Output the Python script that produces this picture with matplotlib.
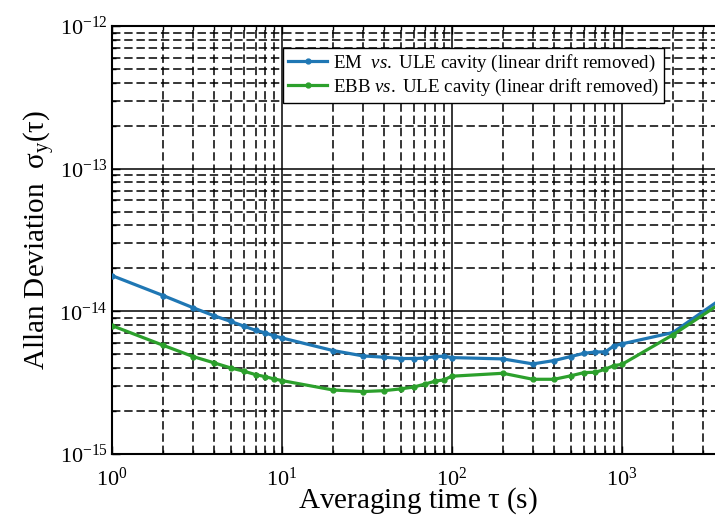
import matplotlib
matplotlib.use("Agg")
import matplotlib.pyplot as plt
import numpy as np

plt.rcParams['font.family'] = ['Liberation Serif', 'DejaVu Serif']
plt.rcParams['mathtext.fontset'] = 'custom'
plt.rcParams['mathtext.rm'] = 'Liberation Serif'
plt.rcParams['mathtext.it'] = 'Liberation Serif:italic'
plt.rcParams['mathtext.bf'] = 'Liberation Serif:bold'

tau = [1, 2, 3, 4, 5, 6, 7, 8, 9, 10, 20, 30, 40, 50, 60, 70, 80, 90, 100,
       200, 300, 400, 500, 600, 700, 800, 900, 1000, 2000, 4000]

em = [1.78e-14, 1.29e-14, 1.06e-14, 9.3e-15, 8.5e-15, 7.86e-15, 7.36e-15, 7.06e-15,
      6.73e-15, 6.51e-15, 5.31e-15, 4.87e-15, 4.77e-15, 4.67e-15, 4.67e-15, 4.70e-15,
      4.82e-15, 4.85e-15, 4.74e-15, 4.64e-15, 4.28e-15, 4.52e-15, 4.82e-15, 5.08e-15,
      5.19e-15, 5.20e-15, 5.72e-15, 5.91e-15, 7.1e-15, 1.26e-14]

ebb = [7.94e-15, 5.78e-15, 4.82e-15, 4.35e-15, 4.01e-15, 3.80e-15, 3.60e-15, 3.48e-15,
       3.36e-15, 3.27e-15, 2.81e-15, 2.74e-15, 2.78e-15, 2.86e-15, 2.95e-15, 3.10e-15,
       3.24e-15, 3.31e-15, 3.51e-15, 3.68e-15, 3.34e-15, 3.34e-15, 3.53e-15, 3.72e-15,
       3.74e-15, 3.93e-15, 4.17e-15, 4.24e-15, 6.84e-15, 1.18e-14]

labels = [r'EM  $\mathit{vs.}$ ULE cavity (linear drift removed)',
          r'EBB $\mathit{vs.}$ ULE cavity (linear drift removed)']
colors = ['#1f77b4', '#2ca02c']

fig = plt.figure(figsize=(7.15, 5.2), dpi=100)
ax = fig.add_axes([112/715, 66/520, (724-112)/715, (454-26)/520])

ax.plot(tau, em, '-o', color=colors[0], lw=2.3, ms=3.5, label=labels[0], zorder=3)
ax.plot(tau, ebb, '-o', color=colors[1], lw=2.3, ms=3.5, label=labels[1], zorder=3)

ax.set_xscale('log')
ax.set_yscale('log')
ax.set_xlim(1, 4000)
ax.set_ylim(1e-15, 1e-12)

ax.grid(True, which='major', color='black', linestyle='-', linewidth=1.1)
ax.grid(True, which='minor', color='black', linestyle=(0, (5.5, 2.5)), linewidth=1.1)
ax.set_axisbelow(True)

ax.tick_params(which='both', direction='in', top=True, right=True,
               labelsize=16, width=1.0)
ax.tick_params(which='major', length=6)
ax.tick_params(which='minor', length=3)
ax.tick_params(axis='y', pad=3)
ax.tick_params(axis='x', pad=10)
for s in ax.spines.values():
    s.set_linewidth(1.5)

ax.set_xlabel(r'Averaging time $\mathrm{\tau}$ (s)', fontsize=21, labelpad=-4)
ax.set_ylabel(r'Allan Deviation  $\mathrm{\sigma_y(\tau)}$', fontsize=21, labelpad=2)

leg = ax.legend(loc='upper left', bbox_to_anchor=((283-112)/612, (454-48)/428),
                fontsize=13.6, frameon=True, fancybox=False, edgecolor='black',
                framealpha=1, handlelength=2.1, handletextpad=0.3,
                borderpad=0.25, labelspacing=0.15, borderaxespad=0)
leg.get_frame().set_linewidth(1.0)

fig.savefig('out.png', dpi=100)
